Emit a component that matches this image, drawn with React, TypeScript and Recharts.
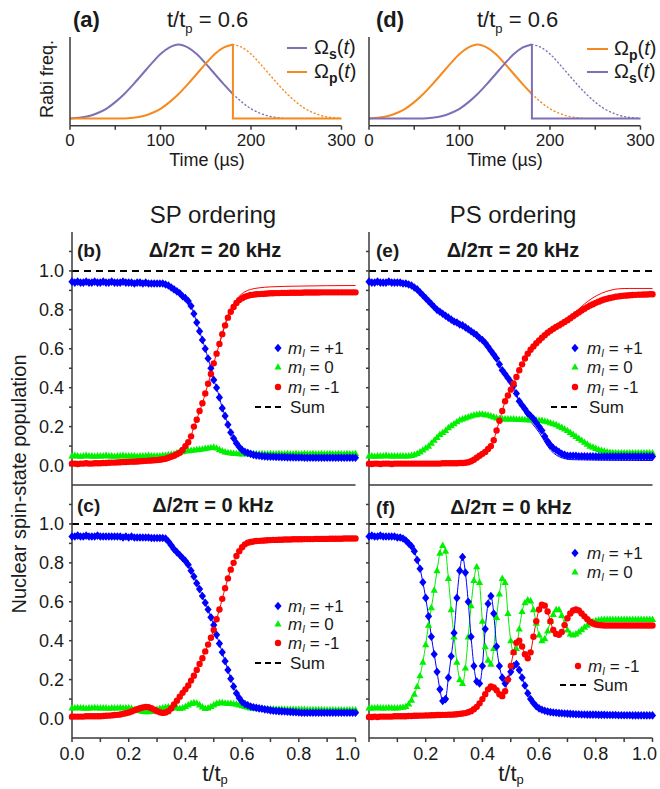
import React from "react";
import { LineChart, Line, XAxis, YAxis, ReferenceLine } from "recharts";

const FONT = '"Liberation Sans", Arial, Helvetica, sans-serif';
const INK = "#1a1a1a";
const AXIS = "#3a3a3a";
const BLUE = "#0000ff";
const GREEN = "#00f000";
const RED = "#ff0000";
const PURPLE = "#7f6fb6";
const ORANGE = "#f58a1f";

// pulse sketches (a), (d): time in µs, normalised Rabi frequency
const pulseT = [0, 10, 20, 30, 40, 50, 60, 70, 80, 90, 100, 110, 120, 130, 140, 150, 160, 170, 180, 190, 200, 210, 220, 230, 240, 250, 260, 270, 280, 290, 300];
const earlyPulse = [0, 0.01, 0.03, 0.07, 0.13, 0.22, 0.33, 0.46, 0.6, 0.74, 0.87, 0.96, 1, 0.96, 0.87, 0.74, 0.6, 0.46, 0.33, 0.22, 0.13, 0.07, 0.03, 0.01, 0, 0, 0, 0, 0, 0, 0];
const latePulse = [0, 0, 0, 0, 0, 0, 0, 0.01, 0.03, 0.07, 0.13, 0.22, 0.33, 0.46, 0.6, 0.74, 0.87, 0.96, 1, 0.96, 0.87, 0.74, 0.6, 0.46, 0.33, 0.22, 0.13, 0.07, 0.03, 0.01, 0];
const cutIdx = 18; // t/tp = 0.6 -> 180 µs
const pulseXTicks = [0, 50, 100, 150, 200, 250, 300];
const pulseYTicks = [0, 0.5, 1];

// populations vs t/tp, sampled every 0.01
const tGrid = Array.from({ length: 101 }, (_, i) => i / 100);
const popXTicks = [0, 0.1, 0.2, 0.3, 0.4, 0.5, 0.6, 0.7, 0.8, 0.9, 1];
const popYTicks = [0, 0.1, 0.2, 0.3, 0.4, 0.5, 0.6, 0.7, 0.8, 0.9, 1, 1.1];

// (b) SP, 20 kHz
const bBlue = [
  0.945, 0.94, 0.945, 0.94, 0.94, 0.945, 0.94, 0.94, 0.945, 0.94,
  0.94, 0.945, 0.94, 0.94, 0.945, 0.94, 0.94, 0.94, 0.945, 0.94,
  0.94, 0.94, 0.935, 0.94, 0.94, 0.935, 0.94, 0.935, 0.935, 0.935,
  0.935, 0.935, 0.935, 0.93, 0.925, 0.915, 0.905, 0.895, 0.885, 0.87,
  0.86, 0.845, 0.82, 0.78, 0.735, 0.69, 0.645, 0.6, 0.55, 0.5,
  0.44, 0.4, 0.35, 0.295, 0.255, 0.21, 0.17, 0.14, 0.115, 0.095,
  0.08, 0.07, 0.065, 0.06, 0.055, 0.052, 0.05, 0.048, 0.047, 0.046,
  0.045, 0.045, 0.044, 0.044, 0.043, 0.043, 0.042, 0.042, 0.042, 0.041,
  0.041, 0.041, 0.04, 0.04, 0.04, 0.04, 0.04, 0.04, 0.04, 0.04,
  0.04, 0.04, 0.04, 0.04, 0.04, 0.04, 0.04, 0.04, 0.04, 0.04,
  0.04,
];
const bGreen = [
  0.05, 0.052, 0.05, 0.048, 0.05, 0.052, 0.05, 0.05, 0.048, 0.05,
  0.05, 0.05, 0.052, 0.05, 0.05, 0.048, 0.05, 0.05, 0.052, 0.05,
  0.05, 0.05, 0.05, 0.048, 0.05, 0.05, 0.05, 0.052, 0.05, 0.05,
  0.05, 0.05, 0.052, 0.053, 0.055, 0.058, 0.06, 0.065, 0.07, 0.072,
  0.075, 0.077, 0.078, 0.08, 0.082, 0.083, 0.085, 0.088, 0.09, 0.093,
  0.095, 0.09, 0.082, 0.076, 0.07, 0.067, 0.065, 0.063, 0.062, 0.061,
  0.06, 0.062, 0.06, 0.06, 0.062, 0.06, 0.06, 0.062, 0.06, 0.06,
  0.062, 0.06, 0.06, 0.062, 0.06, 0.06, 0.062, 0.06, 0.06, 0.062,
  0.06, 0.06, 0.062, 0.06, 0.06, 0.062, 0.06, 0.06, 0.062, 0.06,
  0.06, 0.062, 0.06, 0.06, 0.062, 0.06, 0.06, 0.062, 0.06, 0.06,
  0.062,
];
const bRed = [
  0.01, 0.01, 0.008, 0.01, 0.01, 0.012, 0.01, 0.01, 0.012, 0.012,
  0.012, 0.013, 0.013, 0.014, 0.015, 0.015, 0.016, 0.017, 0.018, 0.018,
  0.019, 0.02, 0.02, 0.021, 0.022, 0.023, 0.024, 0.025, 0.026, 0.027,
  0.028, 0.03, 0.032, 0.035, 0.04, 0.045, 0.05, 0.058, 0.066, 0.08,
  0.1, 0.12, 0.15, 0.2, 0.235, 0.28, 0.32, 0.37, 0.42, 0.47,
  0.525, 0.575, 0.625, 0.675, 0.72, 0.76, 0.79, 0.815, 0.835, 0.85,
  0.86, 0.867, 0.872, 0.876, 0.878, 0.88, 0.881, 0.882, 0.883, 0.884,
  0.885, 0.885, 0.886, 0.886, 0.887, 0.887, 0.887, 0.888, 0.888, 0.888,
  0.888, 0.888, 0.889, 0.889, 0.889, 0.889, 0.889, 0.889, 0.89, 0.89,
  0.89, 0.89, 0.89, 0.89, 0.89, 0.89, 0.89, 0.89, 0.89, 0.89,
  0.89,
];
const bRedFitT = [0.52, 0.55, 0.57, 0.59, 0.61, 0.63, 0.66, 0.7, 0.8, 0.9, 1];
const bRedFitV = [0.625, 0.77, 0.83, 0.87, 0.893, 0.905, 0.913, 0.918, 0.922, 0.924, 0.925];

// (e) PS, 20 kHz
const eBlue = [
  0.945, 0.94, 0.94, 0.945, 0.94, 0.94, 0.94, 0.945, 0.94, 0.94,
  0.94, 0.94, 0.935, 0.935, 0.93, 0.925, 0.915, 0.905, 0.89, 0.875,
  0.86, 0.845, 0.83, 0.815, 0.8, 0.79, 0.78, 0.77, 0.76, 0.75,
  0.74, 0.735, 0.725, 0.72, 0.71, 0.7, 0.69, 0.68, 0.67, 0.655,
  0.645, 0.63, 0.61, 0.59, 0.57, 0.55, 0.52, 0.49, 0.47, 0.45,
  0.43, 0.41, 0.37, 0.33, 0.31, 0.29, 0.27, 0.255, 0.24, 0.22,
  0.2, 0.18, 0.15, 0.125, 0.105, 0.09, 0.08, 0.07, 0.06, 0.055,
  0.05, 0.05, 0.05, 0.05, 0.048, 0.048, 0.048, 0.047, 0.047, 0.047,
  0.046, 0.046, 0.046, 0.046, 0.046, 0.046, 0.046, 0.046, 0.046, 0.046,
  0.046, 0.046, 0.046, 0.046, 0.046, 0.046, 0.046, 0.046, 0.046, 0.046,
  0.046,
];
const eGreen = [
  0.05, 0.05, 0.048, 0.05, 0.05, 0.05, 0.052, 0.05, 0.05, 0.05,
  0.05, 0.05, 0.05, 0.05, 0.05, 0.052, 0.056, 0.062, 0.07, 0.08,
  0.09, 0.1, 0.115, 0.13, 0.145, 0.16, 0.17, 0.18, 0.195, 0.205,
  0.215, 0.225, 0.235, 0.24, 0.245, 0.25, 0.255, 0.26, 0.262, 0.265,
  0.265, 0.262, 0.26, 0.255, 0.25, 0.245, 0.242, 0.24, 0.24, 0.24,
  0.24, 0.24, 0.238, 0.237, 0.237, 0.236, 0.236, 0.235, 0.235, 0.234,
  0.233, 0.232, 0.228, 0.225, 0.22, 0.215, 0.21, 0.203, 0.196, 0.188,
  0.18, 0.17, 0.16, 0.15, 0.14, 0.13, 0.12, 0.11, 0.1, 0.095,
  0.088, 0.082, 0.078, 0.074, 0.07, 0.068, 0.067, 0.066, 0.066, 0.065,
  0.065, 0.065, 0.065, 0.065, 0.065, 0.065, 0.065, 0.065, 0.065, 0.065,
  0.065,
];
const eRed = [
  0.01, 0.008, 0.01, 0.01, 0.008, 0.01, 0.01, 0.01, 0.008, 0.01,
  0.01, 0.01, 0.01, 0.01, 0.01, 0.01, 0.01, 0.01, 0.01, 0.01,
  0.01, 0.01, 0.01, 0.01, 0.01, 0.01, 0.012, 0.012, 0.012, 0.012,
  0.012, 0.012, 0.013, 0.013, 0.014, 0.017, 0.022, 0.03, 0.04, 0.05,
  0.06, 0.07, 0.085, 0.1, 0.13, 0.18, 0.23, 0.28, 0.33, 0.36,
  0.39, 0.42, 0.455, 0.49, 0.52, 0.55, 0.575, 0.595, 0.612, 0.628,
  0.643, 0.657, 0.67, 0.682, 0.693, 0.703, 0.712, 0.72, 0.729, 0.738,
  0.747, 0.757, 0.767, 0.777, 0.787, 0.797, 0.806, 0.814, 0.822, 0.829,
  0.836, 0.842, 0.848, 0.853, 0.857, 0.861, 0.864, 0.867, 0.869, 0.871,
  0.873, 0.874, 0.875, 0.876, 0.877, 0.878, 0.878, 0.879, 0.879, 0.88,
  0.88,
];
const eRedFitT = [0.62, 0.66, 0.7, 0.73, 0.76, 0.79, 0.82, 0.85, 0.88, 0.92, 1];
const eRedFitV = [0.67, 0.712, 0.752, 0.79, 0.83, 0.862, 0.885, 0.9, 0.908, 0.91, 0.91];
const eBlueFitT = [0.5, 0.55, 0.6, 0.64, 0.68, 0.72, 1];
const eBlueFitV = [0.43, 0.27, 0.17, 0.08, 0.04, 0.03, 0.026];

// (c) SP, 0 kHz
const cBlue = [
  0.935, 0.935, 0.94, 0.935, 0.935, 0.94, 0.935, 0.935, 0.935, 0.94,
  0.935, 0.935, 0.935, 0.935, 0.935, 0.935, 0.935, 0.935, 0.93, 0.935,
  0.93, 0.935, 0.93, 0.93, 0.93, 0.93, 0.93, 0.93, 0.928, 0.928,
  0.928, 0.928, 0.928, 0.925, 0.91, 0.89, 0.87, 0.855, 0.84, 0.825,
  0.81, 0.79, 0.76, 0.73, 0.695, 0.665, 0.63, 0.595, 0.56, 0.52,
  0.48, 0.43, 0.385, 0.34, 0.295, 0.25, 0.205, 0.165, 0.13, 0.105,
  0.085, 0.075, 0.068, 0.062, 0.058, 0.055, 0.052, 0.05, 0.047, 0.045,
  0.042, 0.04, 0.039, 0.038, 0.037, 0.036, 0.035, 0.034, 0.033, 0.032,
  0.031, 0.03, 0.03, 0.03, 0.03, 0.03, 0.03, 0.03, 0.03, 0.03,
  0.03, 0.03, 0.03, 0.03, 0.03, 0.03, 0.03, 0.03, 0.03, 0.03,
  0.03,
];
const cGreen = [
  0.055, 0.055, 0.057, 0.055, 0.055, 0.053, 0.055, 0.055, 0.057, 0.055,
  0.055, 0.055, 0.055, 0.053, 0.055, 0.055, 0.055, 0.057, 0.055, 0.055,
  0.055, 0.052, 0.048, 0.045, 0.04, 0.037, 0.035, 0.035, 0.037, 0.042,
  0.048, 0.052, 0.055, 0.058, 0.06, 0.06, 0.058, 0.055, 0.052, 0.055,
  0.062, 0.07, 0.078, 0.082, 0.08, 0.07, 0.06, 0.052, 0.055, 0.062,
  0.07, 0.078, 0.082, 0.082, 0.08, 0.078, 0.078, 0.076, 0.074, 0.07,
  0.066, 0.062, 0.058, 0.055, 0.054, 0.053, 0.052, 0.051, 0.05, 0.05,
  0.05, 0.05, 0.049, 0.049, 0.049, 0.048, 0.048, 0.048, 0.048, 0.047,
  0.047, 0.047, 0.047, 0.046, 0.046, 0.046, 0.046, 0.046, 0.046, 0.045,
  0.045, 0.045, 0.045, 0.045, 0.045, 0.045, 0.045, 0.045, 0.045, 0.045,
  0.045,
];
const cRed = [
  0.01, 0.01, 0.01, 0.01, 0.01, 0.012, 0.012, 0.012, 0.012, 0.012,
  0.012, 0.013, 0.014, 0.015, 0.016, 0.018, 0.019, 0.021, 0.024, 0.027,
  0.031, 0.036, 0.042, 0.048, 0.053, 0.057, 0.06, 0.058, 0.053, 0.046,
  0.038, 0.032, 0.029, 0.031, 0.038, 0.052, 0.072, 0.092, 0.112, 0.132,
  0.15, 0.17, 0.195, 0.22, 0.25, 0.28, 0.31, 0.345, 0.38, 0.415,
  0.455, 0.51, 0.56, 0.615, 0.67, 0.72, 0.765, 0.8, 0.835, 0.86,
  0.88, 0.895, 0.903, 0.907, 0.91, 0.912, 0.913, 0.914, 0.915, 0.916,
  0.917, 0.918, 0.918, 0.919, 0.919, 0.92, 0.92, 0.92, 0.921, 0.921,
  0.921, 0.921, 0.922, 0.922, 0.922, 0.922, 0.923, 0.923, 0.923, 0.923,
  0.923, 0.924, 0.924, 0.924, 0.924, 0.924, 0.925, 0.925, 0.925, 0.925,
  0.925,
];

// (f) PS, 0 kHz
const fBlue = [
  0.935, 0.94, 0.935, 0.935, 0.94, 0.935, 0.935, 0.935, 0.935, 0.935,
  0.93, 0.93, 0.925, 0.915, 0.9, 0.885, 0.86, 0.815, 0.77, 0.7,
  0.62, 0.525, 0.42, 0.33, 0.24, 0.15, 0.09, 0.1, 0.21, 0.32,
  0.44, 0.62, 0.76, 0.83, 0.75, 0.6, 0.42, 0.27, 0.19, 0.18,
  0.27, 0.46, 0.59, 0.63, 0.54, 0.37, 0.27, 0.21, 0.18, 0.2,
  0.24, 0.27, 0.28, 0.25, 0.21, 0.17, 0.13, 0.1, 0.08, 0.063,
  0.052, 0.045, 0.04, 0.036, 0.033, 0.031, 0.03, 0.028, 0.027, 0.026,
  0.025, 0.024, 0.023, 0.022, 0.022, 0.021, 0.021, 0.02, 0.02, 0.02,
  0.02, 0.019, 0.019, 0.019, 0.018, 0.018, 0.018, 0.018, 0.017, 0.017,
  0.017, 0.017, 0.017, 0.016, 0.016, 0.016, 0.016, 0.016, 0.016, 0.016,
  0.016,
];
const fGreen = [
  0.055, 0.055, 0.055, 0.057, 0.055, 0.055, 0.055, 0.057, 0.055, 0.055,
  0.055, 0.057, 0.058, 0.062, 0.075, 0.095, 0.125, 0.165, 0.22, 0.29,
  0.38, 0.48, 0.57, 0.66, 0.76, 0.85, 0.89, 0.86, 0.72, 0.56,
  0.42, 0.29, 0.2, 0.18, 0.26, 0.42, 0.58, 0.71, 0.78, 0.7,
  0.5, 0.37, 0.3, 0.28, 0.36, 0.52, 0.64, 0.72, 0.7, 0.54,
  0.4, 0.34, 0.36, 0.46, 0.55, 0.595, 0.61, 0.605, 0.56, 0.49,
  0.43, 0.4, 0.41, 0.45, 0.5, 0.535, 0.56, 0.56, 0.53, 0.49,
  0.455, 0.435, 0.43, 0.435, 0.445, 0.457, 0.47, 0.48, 0.49, 0.498,
  0.503, 0.506, 0.508, 0.51, 0.51, 0.51, 0.51, 0.51, 0.51, 0.51,
  0.51, 0.51, 0.51, 0.51, 0.51, 0.51, 0.51, 0.51, 0.51, 0.51,
  0.51,
];
const fRed = [
  0.008, 0.008, 0.01, 0.008, 0.01, 0.01, 0.01, 0.01, 0.01, 0.012,
  0.012, 0.012, 0.012, 0.012, 0.013, 0.013, 0.014, 0.014, 0.015, 0.015,
  0.016, 0.016, 0.017, 0.017, 0.018, 0.018, 0.019, 0.019, 0.02, 0.02,
  0.021, 0.022, 0.024, 0.026, 0.028, 0.032, 0.038, 0.048, 0.06, 0.078,
  0.1, 0.125, 0.15, 0.165, 0.16, 0.145, 0.125, 0.115, 0.14, 0.2,
  0.27, 0.34, 0.39, 0.4, 0.37, 0.33, 0.31, 0.34, 0.42, 0.5,
  0.56, 0.585, 0.58, 0.55, 0.5, 0.455, 0.435, 0.43, 0.445, 0.48,
  0.515, 0.54, 0.555, 0.56, 0.555, 0.54, 0.525, 0.51, 0.497, 0.488,
  0.483, 0.48, 0.479, 0.478, 0.478, 0.478, 0.478, 0.478, 0.478, 0.478,
  0.478, 0.478, 0.478, 0.478, 0.478, 0.478, 0.478, 0.478, 0.478, 0.478,
  0.478,
];

type Pt = { t: number; v: number };
const onGrid = (vals: number[]): Pt[] => vals.map((v, i) => ({ t: tGrid[i], v }));
const zipPts = (ts: number[], vs: number[]): Pt[] => ts.map((t, i) => ({ t, v: vs[i] }));

const diamond = (p: any) => {
  if (p.cx == null || p.cy == null) return <g key={p.index} />;
  const { cx, cy } = p;
  return <path key={p.index} d={`M${cx},${cy - 4.3}L${cx + 3.6},${cy}L${cx},${cy + 4.3}L${cx - 3.6},${cy}Z`} fill={BLUE} />;
};
const triangle = (p: any) => {
  if (p.cx == null || p.cy == null) return <g key={p.index} />;
  const { cx, cy } = p;
  return <path key={p.index} d={`M${cx},${cy - 3.8}L${cx + 3.6},${cy + 2.6}L${cx - 3.6},${cy + 2.6}Z`} fill={GREEN} />;
};
const circle = (p: any) => {
  if (p.cx == null || p.cy == null) return <g key={p.index} />;
  return <circle key={p.index} cx={p.cx} cy={p.cy} r={3.2} fill={RED} />;
};

const axisLine = { stroke: AXIS, strokeWidth: 1.5 };

// main population panels
const PW = 283.5;
const PH = 253;
const YW = 44;
const XH = 34;
const PAD = 7;

function PopPanel({ left, top, blue, green, red, fits = [], yLabels, xLabels, hideXZero, topTicks }: any) {
  const xFmt = (v: number) =>
    !xLabels || (hideXZero && v === 0) || Math.round(v * 10) % 2 ? "" : v.toFixed(1);
  const yFmt = (v: number) => (!yLabels || Math.round(v * 10) % 2 ? "" : v.toFixed(1));
  const tickStyle = { fontSize: 18, fill: INK, fontFamily: FONT };
  // the last label is pulled left, as in the original figure
  const xTick = (p: any) => (
    <text key={p.index} x={p.x + (p.payload.value === 1 ? -8 : 0)} y={p.y} dy="0.71em" textAnchor="middle"
      fontSize={18} fill={INK} fontFamily={FONT}>{xFmt(p.payload.value)}</text>
  );
  return (
    <div style={{ position: "absolute", left: left - YW, top: top - PAD }}>
      <LineChart width={YW + PW + PAD} height={PAD + PH + XH} margin={{ top: PAD, right: PAD, bottom: 0, left: 0 }}>
        <XAxis xAxisId="x" type="number" dataKey="t" domain={[0, 1]} ticks={popXTicks} interval={0}
          height={XH} tick={xLabels ? xTick : false} tickSize={4} tickMargin={5}
          tickLine={xLabels ? axisLine : false} axisLine={axisLine} />
        <XAxis xAxisId="top" orientation="top" type="number" dataKey="t" domain={[0, 1]} ticks={popXTicks}
          interval={0} height={0} tick={false} tickSize={4} tickLine={topTicks ? axisLine : false} axisLine={axisLine} />
        <YAxis yAxisId="y" type="number" domain={[-0.1, 1.2]} ticks={popYTicks} interval={0} width={YW}
          tick={tickStyle} tickFormatter={yFmt} tickSize={3} tickMargin={5} tickLine={axisLine} axisLine={axisLine} />
        <YAxis yAxisId="r" orientation="right" type="number" domain={[-0.1, 1.2]} width={0}
          tick={false} tickLine={false} axisLine={axisLine} />
        <ReferenceLine xAxisId="x" yAxisId="y" y={1} stroke="#000" strokeWidth={2} strokeDasharray="7 5" />
        {fits.map((f: any, i: number) => (
          <Line key={"fit" + i} xAxisId="x" yAxisId="y" data={f.pts} dataKey="v" type="monotone"
            stroke={f.color} strokeWidth={1} dot={false} activeDot={false} isAnimationActive={false} />
        ))}
        <Line xAxisId="x" yAxisId="y" data={green} dataKey="v" type="monotone" stroke={GREEN} strokeWidth={1}
          dot={triangle} activeDot={false} isAnimationActive={false} />
        <Line xAxisId="x" yAxisId="y" data={blue} dataKey="v" type="monotone" stroke={BLUE} strokeWidth={1}
          dot={diamond} activeDot={false} isAnimationActive={false} />
        <Line xAxisId="x" yAxisId="y" data={red} dataKey="v" type="monotone" stroke={RED} strokeWidth={1}
          dot={circle} activeDot={false} isAnimationActive={false} />
      </LineChart>
    </div>
  );
}

// pulse sketches
const TW = 271.5;
const TH = 88.8;
const TTOP = 36.6;
const TYW = 12;
const TXH = 30;

function PulsePanel({ left, earlyColor, lateColor }: any) {
  const earlyOn = zipPts(pulseT.slice(0, cutIdx + 1), earlyPulse.slice(0, cutIdx + 1));
  const earlyAfter = zipPts(pulseT.slice(cutIdx), earlyPulse.slice(cutIdx));
  const lateOn = zipPts(pulseT.slice(0, cutIdx + 1), latePulse.slice(0, cutIdx + 1));
  const lateAfter = zipPts(pulseT.slice(cutIdx), latePulse.slice(cutIdx));
  const lateOff = [
    { t: pulseT[cutIdx], v: latePulse[cutIdx] },
    { t: pulseT[cutIdx], v: 0 },
    { t: pulseT[pulseT.length - 1], v: 0 },
  ];
  const dotted = { strokeWidth: 1.4, strokeDasharray: "1 3", strokeLinecap: "round" as const };
  return (
    <div style={{ position: "absolute", left: left - TYW, top: TTOP - PAD }}>
      <LineChart width={TYW + TW + 20} height={PAD + TH + TXH} margin={{ top: PAD, right: 20, bottom: 0, left: 0 }}>
        <XAxis type="number" dataKey="t" domain={[0, 300]} ticks={pulseXTicks} interval={0} height={TXH}
          tick={{ fontSize: 17, fill: INK, fontFamily: FONT }} tickFormatter={(v: number) => (v % 100 ? "" : String(v))}
          tickSize={4} tickMargin={4} tickLine={axisLine} axisLine={axisLine} />
        <YAxis type="number" domain={[-0.1, 1.1]} ticks={pulseYTicks} width={TYW} tick={false} tickSize={4}
          tickLine={axisLine} axisLine={axisLine} />
        <Line data={earlyAfter} dataKey="v" type="monotone" stroke={earlyColor} {...dotted} dot={false} activeDot={false} isAnimationActive={false} />
        <Line data={lateAfter} dataKey="v" type="monotone" stroke={lateColor} {...dotted} dot={false} activeDot={false} isAnimationActive={false} />
        <Line data={earlyOn} dataKey="v" type="monotone" stroke={earlyColor} strokeWidth={2} dot={false} activeDot={false} isAnimationActive={false} />
        <Line data={lateOn} dataKey="v" type="monotone" stroke={lateColor} strokeWidth={2} dot={false} activeDot={false} isAnimationActive={false} />
        <Line data={lateOff} dataKey="v" type="linear" stroke={lateColor} strokeWidth={2} dot={false} activeDot={false} isAnimationActive={false} />
      </LineChart>
    </div>
  );
}

function Txt({ x, y, size = 18, bold = false, anchor = "middle", rotate = 0, children }: any) {
  const tx = anchor === "middle" ? "-50%" : anchor === "end" ? "-100%" : "0";
  return (
    <div style={{
      position: "absolute", left: x, top: y, whiteSpace: "nowrap", lineHeight: 1,
      fontSize: size, fontWeight: bold ? 700 : 400, fontFamily: FONT, color: INK,
      transform: `translate(${tx}, -50%)${rotate ? ` rotate(${rotate}deg)` : ""}`,
    }}>{children}</div>
  );
}

const Sub = ({ children, size = 12, bold = false, italic = false, drop = 5 }: any) => (
  <span style={{ fontSize: size, fontWeight: bold ? 700 : 400, fontStyle: italic ? "italic" : "normal", position: "relative", top: drop, lineHeight: 1 }}>{children}</span>
);

const mI = (val: string) => (
  <span><i>m</i><Sub size={10} italic drop={3}>I</Sub> = {val}</span>
);

function Marker({ x, y, kind }: any) {
  const shape =
    kind === "diamond" ? <path d="M6,1.7L9.6,6L6,10.3L2.4,6Z" fill={BLUE} /> :
    kind === "triangle" ? <path d="M6,2.2L9.6,8.6L2.4,8.6Z" fill={GREEN} /> :
    <circle cx={6} cy={6} r={3.2} fill={RED} />;
  return (
    <svg width={12} height={12} style={{ position: "absolute", left: x - 6, top: y - 6 }}>{shape}</svg>
  );
}

function Dash({ x0, x1, y }: any) {
  return (
    <svg width={x1 - x0} height={4} style={{ position: "absolute", left: x0, top: y - 2 }}>
      <line x1={0} y1={2} x2={x1 - x0} y2={2} stroke="#000" strokeWidth={2} strokeDasharray="6 4" />
    </svg>
  );
}

function PulseKey({ x0, x1, y, color }: any) {
  return (
    <svg width={x1 - x0} height={4} style={{ position: "absolute", left: x0, top: y - 2 }}>
      <line x1={0} y1={2} x2={x1 - x0} y2={2} stroke={color} strokeWidth={2} />
    </svg>
  );
}

const Omega = (s: string) => (
  <span>Ω<Sub size={14} bold drop={5}>{s}</Sub>(<i>t</i>)</span>
);
const TOverTp = (
  <span>t/t<Sub size={13} drop={6}>p</Sub></span>
);
const TOverTpAxis = (
  <span>t/t<Sub size={13} drop={3}>p</Sub></span>
);

const LEG = 17;

export default function App() {
  const L = 71.5;
  const R = 369.3;
  const R1 = 232;
  const R2 = 485;
  return (
    <div style={{ position: "absolute", left: 0, top: 0, width: 660, height: 789, background: "#fff", overflow: "hidden" }}>
      <PulsePanel left={70} earlyColor={PURPLE} lateColor={ORANGE} />
      <PulsePanel left={369} earlyColor={ORANGE} lateColor={PURPLE} />

      <PopPanel left={L} top={R1} blue={onGrid(bBlue)} green={onGrid(bGreen)} red={onGrid(bRed)}
        fits={[{ pts: zipPts(bRedFitT, bRedFitV), color: RED }]} yLabels />
      <PopPanel left={R} top={R1} blue={onGrid(eBlue)} green={onGrid(eGreen)} red={onGrid(eRed)}
        fits={[{ pts: zipPts(eRedFitT, eRedFitV), color: RED }, { pts: zipPts(eBlueFitT, eBlueFitV), color: BLUE }]} />
      <PopPanel left={L} top={R2} blue={onGrid(cBlue)} green={onGrid(cGreen)} red={onGrid(cRed)} yLabels xLabels topTicks />
      <PopPanel left={R} top={R2} blue={onGrid(fBlue)} green={onGrid(fGreen)} red={onGrid(fRed)} xLabels hideXZero topTicks />

      {/* top row labels */}
      <Txt x={73} y={20} size={22} bold anchor="start">(a)</Txt>
      <Txt x={167} y={20} size={22} anchor="start">{TOverTp} = 0.6</Txt>
      <Txt x={376} y={20} size={22} bold anchor="start">(d)</Txt>
      <Txt x={477} y={20} size={22} anchor="start">{TOverTp} = 0.6</Txt>
      <Txt x={47} y={79} size={18} rotate={-90}>Rabi freq.</Txt>
      <Txt x={207} y={160} size={18}>Time (µs)</Txt>
      <Txt x={505} y={160} size={18}>Time (µs)</Txt>

      <PulseKey x0={287} x1={307} y={48} color={PURPLE} />
      <Txt x={314} y={47} size={20} anchor="start">{Omega("s")}</Txt>
      <PulseKey x0={287} x1={307} y={72} color={ORANGE} />
      <Txt x={314} y={71} size={20} anchor="start">{Omega("p")}</Txt>
      <PulseKey x0={587} x1={608} y={49} color={ORANGE} />
      <Txt x={614} y={48} size={20} anchor="start">{Omega("p")}</Txt>
      <PulseKey x0={587} x1={608} y={72} color={PURPLE} />
      <Txt x={614} y={71} size={20} anchor="start">{Omega("s")}</Txt>

      <Txt x={213} y={215} size={24}>SP ordering</Txt>
      <Txt x={513} y={215} size={24}>PS ordering</Txt>

      {/* panel titles */}
      <Txt x={77} y={250} size={19} bold anchor="start">(b)</Txt>
      <Txt x={215} y={250} size={20} bold>Δ/2π = 20 kHz</Txt>
      <Txt x={376} y={250} size={19} bold anchor="start">(e)</Txt>
      <Txt x={513} y={250} size={20} bold>Δ/2π = 20 kHz</Txt>
      <Txt x={77} y={505} size={19} bold anchor="start">(c)</Txt>
      <Txt x={213} y={505} size={20} bold>Δ/2π = 0 kHz</Txt>
      <Txt x={376} y={507} size={19} bold anchor="start">(f)</Txt>
      <Txt x={511} y={507} size={20} bold>Δ/2π = 0 kHz</Txt>

      {/* legends */}
      <Marker x={278} y={348} kind="diamond" /><Txt x={288} y={348} size={LEG} anchor="start">{mI("+1")}</Txt>
      <Marker x={278} y={367} kind="triangle" /><Txt x={288} y={367} size={LEG} anchor="start">{mI("0")}</Txt>
      <Marker x={278} y={387} kind="circle" /><Txt x={288} y={387} size={LEG} anchor="start">{mI("-1")}</Txt>
      <Dash x0={255} x1={283} y={407} /><Txt x={290} y={407} size={LEG} anchor="start">Sum</Txt>

      <Marker x={575} y={348} kind="diamond" /><Txt x={587} y={348} size={LEG} anchor="start">{mI("+1")}</Txt>
      <Marker x={575} y={367} kind="triangle" /><Txt x={587} y={367} size={LEG} anchor="start">{mI("0")}</Txt>
      <Marker x={575} y={387} kind="circle" /><Txt x={587} y={387} size={LEG} anchor="start">{mI("-1")}</Txt>
      <Dash x0={551} x1={578} y={407} /><Txt x={589} y={407} size={LEG} anchor="start">Sum</Txt>

      <Marker x={278} y={606} kind="diamond" /><Txt x={288} y={606} size={LEG} anchor="start">{mI("+1")}</Txt>
      <Marker x={278} y={624} kind="triangle" /><Txt x={288} y={624} size={LEG} anchor="start">{mI("0")}</Txt>
      <Marker x={278} y={643} kind="circle" /><Txt x={288} y={643} size={LEG} anchor="start">{mI("-1")}</Txt>
      <Dash x0={255} x1={283} y={663} /><Txt x={290} y={663} size={LEG} anchor="start">Sum</Txt>

      <Marker x={575} y={553} kind="diamond" /><Txt x={587} y={553} size={LEG} anchor="start">{mI("+1")}</Txt>
      <Marker x={575} y={572} kind="triangle" /><Txt x={587} y={572} size={LEG} anchor="start">{mI("0")}</Txt>
      <Marker x={578} y={666} kind="circle" /><Txt x={588} y={666} size={LEG} anchor="start">{mI("-1")}</Txt>
      <Dash x0={560} x1={587} y={685} /><Txt x={593} y={685} size={LEG} anchor="start">Sum</Txt>

      <Txt x={19} y={484} size={20} rotate={-90}>Nuclear spin-state population</Txt>
      <Txt x={215} y={774} size={22}>{TOverTpAxis}</Txt>
      <Txt x={511} y={774} size={22}>{TOverTpAxis}</Txt>
    </div>
  );
}
